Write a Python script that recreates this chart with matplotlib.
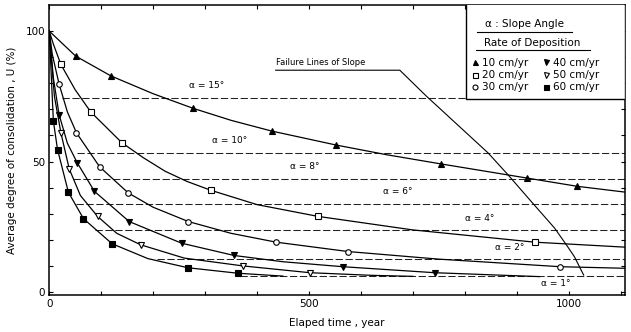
import matplotlib
matplotlib.use("Agg")
import matplotlib.pyplot as plt
from matplotlib.patches import Rectangle

# Curves: elapsed time (year) -> U (%)
t10 = [0, 51, 119, 200, 277, 350, 428, 553, 650, 754, 919, 1017, 1108]
u10 = [100, 90.4, 82.8, 76.0, 70.4, 65.8, 61.7, 56.3, 52.6, 49.1, 43.7, 40.5, 38.3]
m10_t = [51, 119, 277, 428, 553, 754, 919, 1017]
m10_u = [90.4, 82.8, 70.4, 61.7, 56.3, 49.1, 43.7, 40.5]

t20 = [0, 8, 22.5, 50, 80, 140, 181, 223, 265, 311, 400, 517, 700, 935, 1108]
u20 = [100, 95, 87.2, 77.5, 69, 57.2, 51.5, 46.3, 42.4, 39, 33.5, 29, 23.8, 19.1, 17.2]
m20_t = [22.5, 80, 140, 311, 517, 935]
m20_u = [87.2, 69, 57.2, 39, 29, 19.1]

t30 = [0, 6, 19, 35, 52.5, 97, 152, 200, 268, 350, 437, 576, 750, 984, 1108]
u30 = [100, 91, 79.7, 69, 61, 48, 38, 32.5, 27, 22.5, 19.1, 15.5, 12.6, 9.7, 9.1]
m30_t = [19, 52.5, 97, 152, 268, 437, 576, 984]
m30_u = [79.7, 61, 48, 38, 27, 19.1, 15.5, 9.7]

t40 = [0, 8, 19, 35, 54, 87, 154, 255, 356, 450, 565, 742, 944]
u40 = [100, 82, 68, 57, 49.5, 38.6, 27, 18.7, 14, 11.6, 9.7, 7.4, 5.9]
m40_t = [19, 54, 87, 154, 255, 356, 565, 742]
m40_u = [68, 49.5, 38.6, 27, 18.7, 14, 9.7, 7.4]

t50 = [0, 10, 22.5, 38.5, 60, 93, 130, 176, 260, 373, 502, 620, 700]
u50 = [100, 75, 61, 47.2, 37, 29, 22.5, 18.1, 13, 10, 7.4, 6.4, 6.0]
m50_t = [22.5, 38.5, 93, 176, 373, 502]
m50_u = [61, 47.2, 29, 18.1, 10, 7.4]

t60 = [0, 8, 16, 37, 66, 121, 190, 267, 363, 450]
u60 = [100, 65.5, 54.6, 38.2, 28.1, 18.5, 12.8, 9.3, 7.2, 6.1]
m60_t = [8, 16, 37, 66, 121, 267, 363]
m60_u = [65.5, 54.6, 38.2, 28.1, 18.5, 9.3, 7.2]

rates = ["10 cm/yr", "20 cm/yr", "30 cm/yr", "40 cm/yr", "50 cm/yr", "60 cm/yr"]

# failure levels for each slope angle
alpha_names = ["α = 15°", "α = 10°", "α = 8°", "α = 6°", "α = 4°", "α = 2°", "α = 1°"]
alpha_u = [74.2, 53.3, 43.5, 33.8, 23.6, 12.5, 6.2]
alpha_t0 = [25, 54, 46, 52, 88, 207, 367]
alpha_t1 = [802, 1108, 1108, 1108, 1108, 1108, 1108]
alpha_lab_t = [303, 348, 492, 671, 829, 887, 976]
alpha_lab_u = [77.5, 56.5, 46.5, 36.8, 26.6, 15.3, 1.5]

fail_t = [436, 675, 726, 845, 883, 928, 973, 996, 1011, 1029]
fail_u = [85, 85, 75.1, 53.3, 45, 34.7, 24.5, 18, 13.6, 6.5]

fig = plt.figure(figsize=(6.31, 3.32), dpi=100)
ax = fig.add_axes([0.078, 0.111, 0.912, 0.874])

lw = 0.9
for i in range(len(alpha_u)):
    ax.plot([alpha_t0[i], alpha_t1[i]], [alpha_u[i], alpha_u[i]], color="#222222",
            lw=0.75, dashes=(7, 2.5))
    ax.text(alpha_lab_t[i], alpha_lab_u[i], alpha_names[i], fontsize=6.5,
            ha="center", va="bottom")

series = [
    (t10, u10, m10_t, m10_u, "^", "black"),
    (t20, u20, m20_t, m20_u, "s", "white"),
    (t30, u30, m30_t, m30_u, "o", "white"),
    (t40, u40, m40_t, m40_u, "v", "black"),
    (t50, u50, m50_t, m50_u, "v", "white"),
    (t60, u60, m60_t, m60_u, "s", "black"),
]
handles = []
for (t, u, mt, mu, mk, fc), lab in zip(series, rates):
    ax.plot(t, u, color="black", lw=lw)
    h, = ax.plot(mt, mu, ls="none", marker=mk, ms=4, mfc=fc, mec="black",
                 mew=0.8, label=lab)
    handles.append(h)

ax.plot(fail_t, fail_u, color="black", lw=0.8)
ax.text(fail_t[0], fail_u[0] + 1.2, "Failure Lines of Slope", fontsize=6,
        ha="left", va="bottom")

ax.set_xlim(0, 1108)
ax.set_ylim(-1.2, 110)
ax.set_xticks(range(0, 1101, 100))
ax.set_xticklabels([str(v) if v % 500 == 0 else "" for v in range(0, 1101, 100)])
ax.set_yticks(range(0, 101, 10))
ax.set_yticklabels([str(v) if v % 50 == 0 else "" for v in range(0, 101, 10)])
ax.tick_params(direction="in", top=True, right=True, length=3, width=0.8,
               labelsize=7.5, pad=3)
for s in ax.spines.values():
    s.set_linewidth(1.1)

ax.set_ylabel("Average degree of consolidation , U (%)", fontsize=7.5, labelpad=6)
ax.set_xlabel("Elaped time , year", fontsize=7.5, labelpad=6)

# legend box
ax.add_patch(Rectangle((0.724, 0.676), 0.276, 0.33, transform=ax.transAxes,
                       fill=True, facecolor="white", edgecolor="black", lw=1.0,
                       zorder=3))
ax.text(0.826, 0.936, "α : Slope Angle", transform=ax.transAxes, fontsize=7.5,
        ha="center", va="center", zorder=4)
ax.plot([0.743, 0.908], [0.908, 0.908], transform=ax.transAxes, color="black",
        lw=0.8, zorder=4)
ax.text(0.840, 0.870, "Rate of Deposition", transform=ax.transAxes, fontsize=7.5,
        ha="center", va="center", zorder=4)
ax.plot([0.741, 0.939], [0.845, 0.845], transform=ax.transAxes, color="black",
        lw=0.8, zorder=4)
leg = ax.legend(handles=handles, ncol=2, loc="upper left",
                bbox_to_anchor=(0.722, 0.842), frameon=False, fontsize=7.5,
                handlelength=0.6, handletextpad=0.35, columnspacing=1.4,
                labelspacing=0.2, borderpad=0.2, markerscale=0.9)
leg.set_zorder(5)

fig.savefig("out.png", dpi=100)
